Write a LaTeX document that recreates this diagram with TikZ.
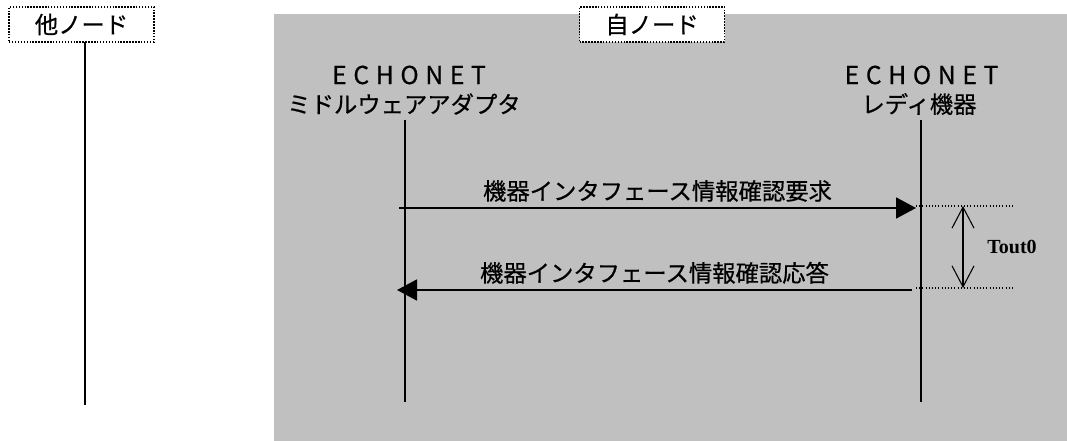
\documentclass[tikz,border=0pt]{standalone}
\usepackage{fontspec}
\setmainfont[FakeBold=0.6]{Noto Sans CJK JP}
\newfontfamily\echofont[LetterSpace=27,FakeBold=0.6]{Noto Sans CJK JP}
\newfontfamily\toutfont{Liberation Serif}
\definecolor{owngray}{RGB}{192,192,192}
\usetikzlibrary{arrows.meta,positioning}

\begin{document}
\begin{tikzpicture}[x=0.75pt,y=-0.75pt,font=\fontsize{17.5}{20}\selectfont,
    nodebox/.style={draw, fill=white, line width=1.1pt, dash pattern=on 1.1pt off 1.1pt,
      minimum width=108.75pt, minimum height=26.25pt, inner sep=0pt},
    echo/.style={font=\echofont\fontsize{18.5}{20}\selectfont, inner sep=0pt},
    lifeline/.style={line width=1.4pt},
    msg/.style={line width=1.4pt, -{Triangle[length=15pt,width=15.75pt]}},
    guide/.style={line width=0.8pt, dash pattern=on 0.8pt off 1.6pt},
    span/.style={line width=0.8pt, {Straight Barb[length=15.75pt,width=16.5pt]}-{Straight Barb[length=15.75pt,width=16.5pt]}}]
  \useasboundingbox (0,0) rectangle (1067,441);

  % own node area
  \fill[owngray] (274,14) rectangle (1067,441);

  % node boxes
  \node[nodebox] (other) at (81.5,24.5) {他ノード};
  \node[nodebox] (own) at (652,24.5) {自ノード};

  % titles
  \node[echo] (adapterecho) at (409,75) {ECHONET};
  \node[inner sep=0pt] (adaptername) at (404,104) {ミドルウェアアダプタ};
  \node[echo] (readyecho) at (921.5,75) {ECHONET};
  \node[inner sep=0pt] (readyname) at (919,104) {レディ機器};

  % lifelines
  \coordinate (other-top) at (85,42);
  \coordinate (other-bot) at (85,405);
  \coordinate (adapter-top) at (405,120);
  \coordinate (adapter-bot) at (405,402);
  \coordinate (ready-top) at (921,120);
  \coordinate (ready-bot) at (921,402);
  \draw[lifeline] (other-top) -- (other-bot);
  \draw[lifeline] (adapter-top) -- (adapter-bot);
  \draw[lifeline] (ready-top) -- (ready-bot);

  % messages
  \coordinate (req-from) at (399,208);
  \coordinate (req-to) at (916,208);
  \coordinate (res-from) at (912,290);
  \coordinate (res-to) at (397,290);
  \draw[msg] (req-from) -- node[midway, above=4pt, inner sep=0pt] (reqlabel) {機器インタフェース情報確認要求} (req-to);
  \draw[msg] (res-from) -- node[midway, above=4pt, inner sep=0pt] (reslabel) {機器インタフェース情報確認応答} (res-to);

  % timeout
  \coordinate (tout-a) at (916,206);
  \coordinate (tout-b) at (1013,206);
  \coordinate (tout-c) at (916,288);
  \coordinate (tout-d) at (1013,288);
  \draw[guide] (tout-a) -- (tout-b);
  \draw[guide] (tout-c) -- (tout-d);
  \coordinate (span-top) at (963,206);
  \coordinate (span-bot) at (963,288);
  \draw[span] (span-top) -- (span-bot);
  \node[font=\toutfont\bfseries\fontsize{15}{18}\selectfont, inner sep=0pt] (tout) at (1012,247) {Tout0};
\end{tikzpicture}
\end{document}
